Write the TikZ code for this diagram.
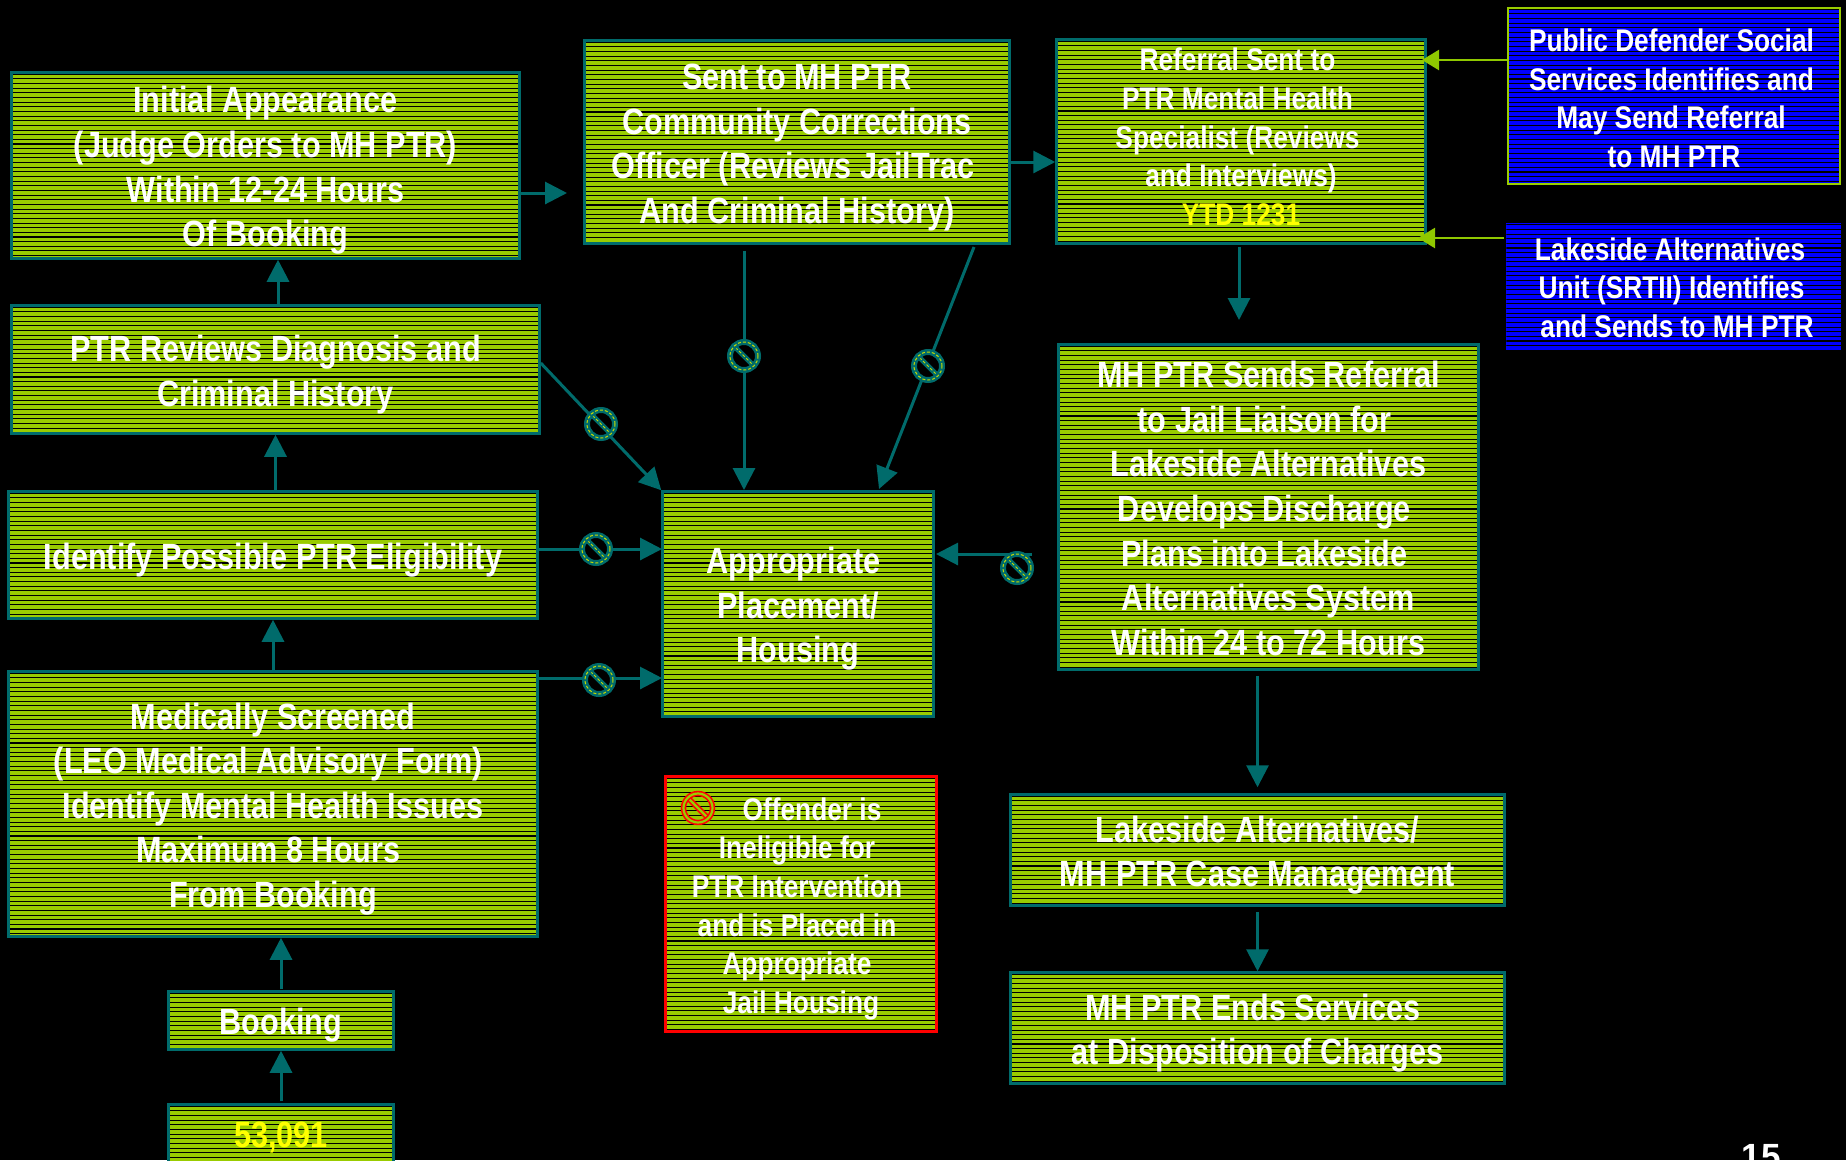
\documentclass[tikz,border=0pt]{standalone}
\usepackage{fontspec}
\usetikzlibrary{arrows.meta,calc}
\newfontfamily\lab[FakeStretch=0.84]{Liberation Sans}
\newfontfamily\num{Liberation Sans}
\definecolor{tealx}{HTML}{006B6B}
\definecolor{lime}{HTML}{99CC00}
\definecolor{limearrow}{HTML}{8FC800}
\definecolor{bluex}{HTML}{0000FF}
\definecolor{ylw}{HTML}{FFFF00}
\definecolor{dashy}{HTML}{C8DC00}
\definecolor{redx}{HTML}{FF0000}
\tikzset{
  stripes/.style={path picture={
    \foreach \i in {0,...,75}
      \draw[black,line width=1.05pt]
        ([yshift=-1.5pt-\i*4.65pt]path picture bounding box.north west) --
        ([yshift=-1.5pt-\i*4.65pt]path picture bounding box.north east);
  }},
  basebox/.style={rectangle,inner sep=0pt,text=white,align=center,stripes},
  greenbox/.style={basebox,fill=lime,draw=tealx,line width=3pt},
  redbox/.style={basebox,fill=lime,draw=redx,line width=3pt},
  bluebox/.style={basebox,fill=bluex,draw=lime,line width=2.4pt},
  bluebare/.style={basebox,fill=bluex},
  big/.style={font=\lab\bfseries\fontsize{36.5}{44.6}\selectfont},
  mid/.style={font=\lab\bfseries\fontsize{31.3}{38.6}\selectfont},
  conn/.style={draw=tealx,line width=3pt,-{Triangle[length=22pt,width=22pt]}},
  feed/.style={draw=limearrow,line width=2.4pt,-{Triangle[length=17pt,width=20pt]}},
  nosym/.style={circle,minimum size=28pt,inner sep=0pt,fill=black,draw=tealx,line width=6pt,
    postaction={draw=dashy,line width=1pt,dash pattern=on 3pt off 2pt},
    path picture={
      \draw[tealx,line width=5pt]
        ([shift={(-12pt,12pt)}]path picture bounding box.center) --
        ([shift={(12pt,-12pt)}]path picture bounding box.center);
      \draw[dashy,line width=1pt,dash pattern=on 3pt off 2pt]
        ([shift={(-12pt,12pt)}]path picture bounding box.center) --
        ([shift={(12pt,-12pt)}]path picture bounding box.center);
    }},
  redsym/.style={circle,minimum size=29pt,inner sep=0pt,draw=redx,line width=1.6pt,double=lime,double distance=2.2pt,
    path picture={
      \draw[redx,line width=1.6pt,double=lime,double distance=2.2pt]
        ([shift={(-13pt,13pt)}]path picture bounding box.center) --
        ([shift={(13pt,-13pt)}]path picture bounding box.center);
    }}
}
% a tall strut on the first line pushes a text block down, a deep one on the last line lifts it
\newcommand{\tall}[1]{\rule{0pt}{#1pt}}
\newcommand{\deep}[1]{\rule[-#1pt]{0pt}{#1pt}}
% move one centred line sideways by half the given amount
\newcommand{\mv}[1]{\hspace*{#1pt}}
\newcommand{\stripebox}[7][]{%
  \pgfmathsetmacro{\boxcx}{(#3+#5)/2}\pgfmathsetmacro{\boxcy}{(#4+#6)/2}%
  \pgfmathsetmacro{\boxw}{#5-#3-1.5}\pgfmathsetmacro{\boxh}{#6-#4-1.5}%
  \node[#1,minimum width=\boxw pt,minimum height=\boxh pt] (#2) at (\boxcx,\boxcy) {#7};}
\begin{document}
\begin{tikzpicture}[x=1pt,y=-1pt]
\useasboundingbox (0,0) rectangle (1846,1160);
\fill[black] (0,0) rectangle (1846,1160);

\stripebox[greenbox,big]{init}{11}{72}{520}{259}{\tall{36.4}Initial Appearance\\(Judge Orders to MH PTR)\\Within 12-24 Hours\\Of Booking}
\stripebox[greenbox,big]{sent}{584}{40}{1010}{244}{\tall{36.4}Sent to MH PTR\\Community Corrections\\\mv{-8}Officer (Reviews JailTrac\\And Criminal History)}
\stripebox[greenbox,mid]{ref}{1056}{39}{1426}{244}{\mv{-7}Referral Sent to\\\mv{-7}PTR Mental Health\\\mv{-7}Specialist (Reviews\\and Interviews)\\\textcolor{ylw}{YTD 1231}\deep{9.4}}
\stripebox[bluebox,mid]{pd}{1507}{7}{1841}{185}{\tall{27.6}\mv{-5}Public Defender Social\\\mv{-5}Services Identifies and\\\mv{-6}May Send Referral\\to MH PTR}
\stripebox[bluebare,mid]{unit}{1505.5}{222.5}{1841.5}{350.5}{\tall{25.2}\mv{-7}Lakeside Alternatives\\\mv{-4}Unit (SRTII) Identifies\\\mv{7}and Sends to MH PTR}
\stripebox[greenbox,big]{rev}{11}{305}{540}{434}{\tall{36.4}PTR Reviews Diagnosis and\\Criminal History}
\stripebox[greenbox,big]{ident}{8}{491}{538}{619}{\tall{36.4}Identify Possible PTR Eligibility}
\stripebox[greenbox,big]{med}{8}{671}{538}{937}{\tall{36.4}Medically Screened\\\mv{-9}(LEO Medical Advisory Form)\\Identify Mental Health Issues\\\mv{-9}Maximum 8 Hours\\From Booking}
\stripebox[greenbox,big]{book}{168}{991}{394}{1050}{\tall{36.4}Booking}
\stripebox[greenbox,big,text=ylw]{total}{168}{1104}{394}{1166}{\tall{31}53,091}
\stripebox[greenbox,big]{place}{662}{491}{934}{717}{\tall{36.4}\mv{-9}Appropriate\\Placement/\\Housing}
\stripebox[greenbox,big]{mh}{1058}{344}{1479}{670}{\tall{29.4}MH PTR Sends Referral\\\mv{-8}to Jail Liaison for\\Lakeside Alternatives\\\mv{-8}Develops Discharge\\\mv{-8}Plans into Lakeside\\Alternatives System\\Within 24 to 72 Hours}
\stripebox[greenbox,big]{lake}{1010}{794}{1505}{906}{\tall{36.4}Lakeside Alternatives/\\MH PTR Case Management}
\stripebox[greenbox,big]{ends}{1010}{972}{1505}{1084}{\tall{36.4}\mv{-9}MH PTR Ends Services\\at Disposition of Charges}
\stripebox[redbox,mid]{off}{665}{776}{937}{1032}{\tall{32.3}\mv{22}Offender is\\\mv{-8}Ineligible for\\\mv{-8}PTR Intervention\\\mv{-8}and is Placed in\\\mv{-8}Appropriate\\Jail Housing}

\coordinate (t1) at (567,193);
\coordinate (t2) at (1239,320);
\coordinate (t3) at (744,490);
\coordinate (t4) at (879,489);
\coordinate (s4) at (974,247);
\coordinate (t5) at (662,549);
\coordinate (t6) at (662,678);
\coordinate (s7) at (1032,554);
\coordinate (t7) at (936,554);
\coordinate (y8) at (0,162);
\coordinate (t9) at (1422,60);
\coordinate (t10) at (1418,238);

\draw[conn] (init.east |- t1) -- (t1);
\draw[conn] (sent.east |- y8) -- (ref.west |- y8);
\draw[feed] (pd.west |- t9) -- (t9);
\draw[feed] ([xshift=-2pt]unit.west |- t10) -- (t10);
\draw[conn] ([yshift=-2pt]ref.south -| t2) -- (t2);
\draw[conn] ([yshift=-6pt]sent.south -| t3) -- (t3);
\draw[conn] (s4) -- (t4);
\draw[conn] ([yshift=6.5pt]rev.east) -- (place.north west);
\draw[conn] (ident.east |- t5) -- (t5);
\draw[conn] (med.east |- t6) -- (t6);
\draw[conn] (s7) -- (t7);
\draw[conn] ([xshift=2.5pt]rev.north) -- ([xshift=2.5pt]rev.north |- init.south);
\draw[conn] (rev.south |- ident.north) -- (rev.south);
\draw[conn] (med.north) -- (ident.south);
\draw[conn] ([yshift=1pt]book.north) -- (book.north |- med.south);
\draw[conn] ([yshift=2pt]total.north) -- (book.south);
\draw[conn] ([yshift=-5pt]lake.north |- mh.south) -- ([yshift=6pt]lake.north);
\draw[conn] ([yshift=-5pt]lake.south) -- (ends.north);

\node[nosym] (n1) at (744,356) {};
\node[nosym] (n2) at (928,366) {};
\node[nosym] (n3) at (601,424) {};
\node[nosym] (n4) at (596,549) {};
\node[nosym] (n5) at (599,680) {};
\node[nosym] (n6) at (1017,568) {};
\node[redsym] (n7) at (698,808) {};
\node[font=\num\bfseries\fontsize{35}{35}\selectfont,text=white,anchor=base,inner sep=0pt] (page) at (1761,1168) {15};
\end{tikzpicture}
\end{document}
